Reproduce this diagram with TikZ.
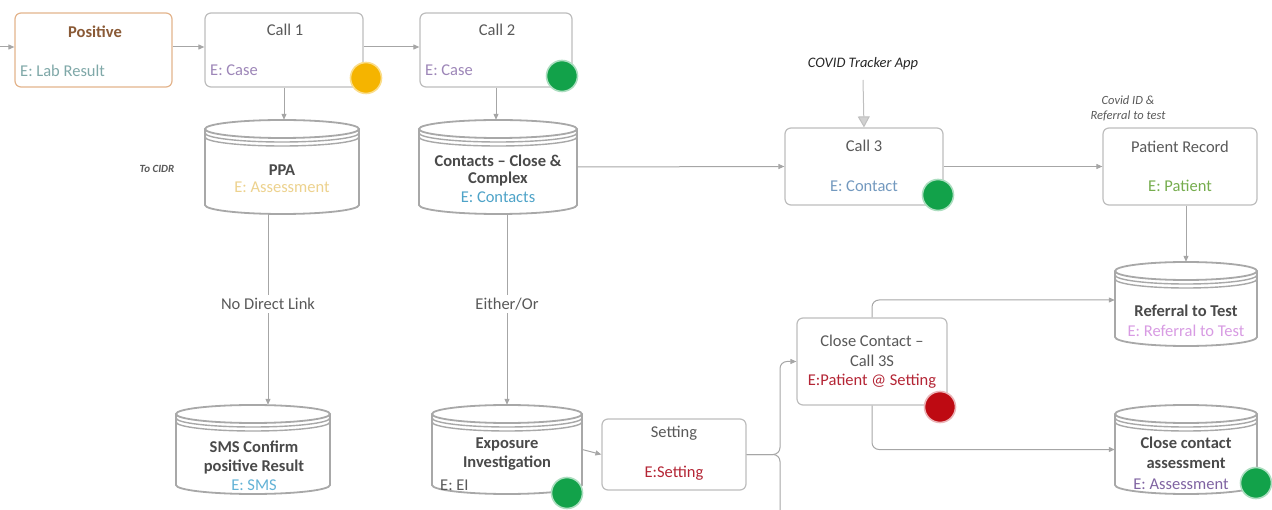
\documentclass[tikz,border=0pt]{standalone}
\usepackage{fontspec}
\setmainfont{Carlito}
\usetikzlibrary{arrows.meta,calc}
\definecolor{boxgray}{HTML}{BDBDBD}
\definecolor{cylgray}{HTML}{A8A8A8}
\definecolor{arrgray}{HTML}{A6A6A6}
\definecolor{txtgray}{HTML}{595959}
\definecolor{boldgray}{HTML}{4A4A4A}
\definecolor{posorange}{HTML}{E3B48C}
\definecolor{posbrown}{HTML}{8A5A36}
\definecolor{labteal}{HTML}{7FA8A8}
\definecolor{casepurple}{HTML}{9D86B8}
\definecolor{assyellow}{HTML}{EDD28E}
\definecolor{contblue}{HTML}{4EA3C8}
\definecolor{contblue2}{HTML}{7399BF}
\definecolor{patgreen}{HTML}{76AD4E}
\definecolor{refpink}{HTML}{D89BE3}
\definecolor{asspurple}{HTML}{8064A2}
\definecolor{setred}{HTML}{B42535}
\definecolor{smsblue}{HTML}{62B2D6}
\definecolor{dotyellow}{HTML}{F5B400}
\definecolor{dotgreen}{HTML}{12A24A}
\definecolor{dotred}{HTML}{BE0A12}
\tikzset{
  box/.style={draw=boxgray, line width=1.2pt, rounded corners=6pt, fill=white, inner sep=0},
  cyl/.style={draw=cylgray, line width=1.8pt},
  conn/.style={draw=arrgray, line width=1pt, -{Triangle[length=6pt,width=5pt]}},
  plainline/.style={draw=arrgray, line width=1pt},
  txt/.style={text=txtgray, font=\fontsize{16.5}{18}\selectfont, inner sep=0},
  btxt/.style={text=boldgray, font=\fontsize{16.5}{18}\selectfont\bfseries, inner sep=0},
  itxt/.style={text=black!85, font=\fontsize{14.5}{16}\selectfont\itshape, inner sep=0},
  stxt/.style={text=txtgray, font=\fontsize{12.5}{15}\selectfont\itshape, inner sep=0, align=center},
  lbl/.style={txt, fill=white, inner sep=3pt},
  dot/.style={circle, minimum size=31pt, inner sep=0, line width=1.6pt},
}
\newcommand{\drum}[5]{%
  \pgfmathsetmacro\dL{#2-#4}\pgfmathsetmacro\dR{#2+#4}%
  \pgfmathsetmacro\dT{#3-#5+9}\pgfmathsetmacro\dB{#3+#5-9}%
  \fill[white] (\dL,\dT) -- (\dL,\dB) arc(180:0:#4 and 9) -- (\dR,\dT) -- cycle;
  \draw[cyl] (\dL,\dT) -- (\dL,\dB) arc(180:0:#4 and 9) -- (\dR,\dT);
  \draw[cyl, fill=white] (#2,\dT) ellipse (#4 and 9);
  \draw[cyl, line width=1.4pt] (\dL,\dT+4) arc(180:0:#4 and 9);
  \draw[cyl, line width=1.4pt] (\dL,\dT+8) arc(180:0:#4 and 9);
  \pgfmathsetmacro\dW{2*#4}\pgfmathsetmacro\dH{2*#5}%
  \node[inner sep=0, minimum width=\dW pt, minimum height=\dH pt] (#1) at (#2,#3) {};
}
\begin{document}
\begin{tikzpicture}[x=1pt,y=-1pt]
\useasboundingbox (0,0) rectangle (1272,510);

% ---------- boxes ----------
\node[box, draw=posorange, minimum width=157pt, minimum height=74pt] (positive) at (93.5,50) {};
\node[box, minimum width=158pt, minimum height=74pt] (call1) at (284,50) {};
\node[box, minimum width=152pt, minimum height=74pt] (call2) at (496,50) {};
\node[box, minimum width=158pt, minimum height=77pt] (call3) at (864,166.5) {};
\node[box, minimum width=154pt, minimum height=77pt] (patient) at (1180,166.5) {};
\node[box, minimum width=144pt, minimum height=71pt] (setting) at (674,454.5) {};
\node[box, minimum width=150pt, minimum height=87pt] (close) at (872,361.5) {};

% ---------- cylinders ----------
\drum{ppa}{282}{167}{77}{47}
\drum{contacts}{498}{167}{79}{47}
\drum{sms}{253}{449.5}{77}{44.5}
\drum{expo}{507}{449.5}{75}{44.5}
\drum{referral}{1186}{304}{71}{42}
\drum{assess}{1186}{449.5}{71}{44.5}

% ---------- texts ----------
\node[btxt, text=posbrown] (tpos) at (95,32) {Positive};
\node[txt, text=labteal, anchor=west] (tlab) at (20,71) {E: Lab Result};
\node[txt] (tc1) at (285,30) {Call 1};
\node[txt, text=casepurple, anchor=west] (tcase1) at (210,70) {E: Case};
\node[txt] (tc2) at (497,30) {Call 2};
\node[txt, text=casepurple, anchor=west] (tcase2) at (425,70) {E: Case};
\node[txt] (tc3) at (864,146) {Call 3};
\node[txt, text=contblue2] (tcont) at (864,186) {E: Contact};
\node[txt] (tpr) at (1180,147) {Patient Record};
\node[txt, text=patgreen] (tpat) at (1180,186) {E: Patient};
\node[txt] (tset) at (674,433) {Setting};
\node[txt, text=setred] (tset2) at (674,473) {E:Setting};
\node[txt] (tcc1) at (872,341) {Close Contact –};
\node[txt] (tcc2) at (872,361) {Call 3S};
\node[txt, text=setred] (tcc3) at (872,381) {E:Patient @ Setting};

\node[btxt] (tppa) at (282,170) {PPA};
\node[txt, text=assyellow] (tppa2) at (282,187) {E: Assessment};
\node[btxt] (tct1) at (498,161) {Contacts – Close \&};
\node[btxt] (tct2) at (498,179) {Complex};
\node[txt, text=contblue] (tct3) at (498,197) {E: Contacts};
\node[btxt] (tsms1) at (254,447) {SMS Confirm};
\node[btxt] (tsms2) at (254,467) {positive Result};
\node[txt, text=smsblue] (tsms3) at (254,485) {E: SMS};
\node[btxt] (tex1) at (507,444) {Exposure};
\node[btxt] (tex2) at (507,463) {Investigation};
\node[txt, anchor=west] (tex3) at (440,485) {E: EI};
\node[btxt] (tref1) at (1186,311) {Referral to Test};
\node[txt, text=refpink] (tref2) at (1186,331) {E: Referral to Test};
\node[btxt] (tas1) at (1186,443) {Close contact};
\node[btxt] (tas2) at (1186,463) {assessment};
\node[txt, text=asspurple] (tas3) at (1181,484) {E: Assessment};

\node[itxt] (covid) at (863,64) {COVID Tracker App};
\node[stxt] (covidid) at (1128,108) {Covid ID \&\\Referral to test};
\node[stxt, font=\fontsize{11}{13}\selectfont\itshape\bfseries] (cidr) at (157,169) {To CIDR};

% ---------- status dots ----------
\node[dot, fill=dotyellow, draw=dotyellow!45] (d1) at (366,78) {};
\node[dot, fill=dotgreen, draw=dotgreen!35] (d2) at (562,76) {};
\node[dot, fill=dotgreen, draw=dotgreen!35] (d3) at (938,195) {};
\node[dot, fill=dotred, draw=dotred!30] (d4) at (940,407) {};
\node[dot, fill=dotgreen, draw=dotgreen!35] (d5) at (567,493) {};
\node[dot, fill=dotgreen, draw=dotgreen!35] (d6) at (1256,483) {};

% ---------- connectors ----------
\coordinate (inl) at (0,47);
\coordinate (outb) at (780,512);
\draw[conn] (inl) -- (inl -| positive.west);
\draw[conn] (positive.east |- inl) -- (call1.west |- inl);
\draw[conn] (call1.east |- inl) -- (call2.west |- inl);
\draw[conn] (call1.south) -- (call1.south |- ppa.north);
\draw[conn] (call2.south) -- (call2.south |- contacts.north);
\draw[conn] ([xshift=-14pt]ppa.south) -- ([xshift=-14pt]ppa.south |- sms.north)
  node[lbl, pos=0.47] {No Direct Link};
\draw[conn] (expo.north |- contacts.south) -- (expo.north)
  node[lbl, pos=0.47] {Either/Or};
\draw[conn] (contacts.east) -- (call3.west);
\draw[conn] (call3.east) -- (patient.west);
\draw[conn] (patient.south -| referral.north) -- (referral.north);
\draw[draw=black!25, line width=1pt, -{Triangle[length=11pt,width=12pt,fill=black!18]}] (covid.south |- 0,80) -- (call3.north);
\draw[conn] (expo.east) -- (setting.west);
\draw[conn, rounded corners=7pt] (setting.east) -- (outb |- setting.east) -- (outb |- close.west) -- (close.west);
\draw[plainline, rounded corners=7pt] (setting.east) -- (outb |- setting.east) -- (outb);
\draw[conn, rounded corners=7pt] (close.north) |- ($(referral.west)+(0,-4)$);
\draw[conn, rounded corners=7pt] (close.south) |- (assess.west);
\end{tikzpicture}
\end{document}
